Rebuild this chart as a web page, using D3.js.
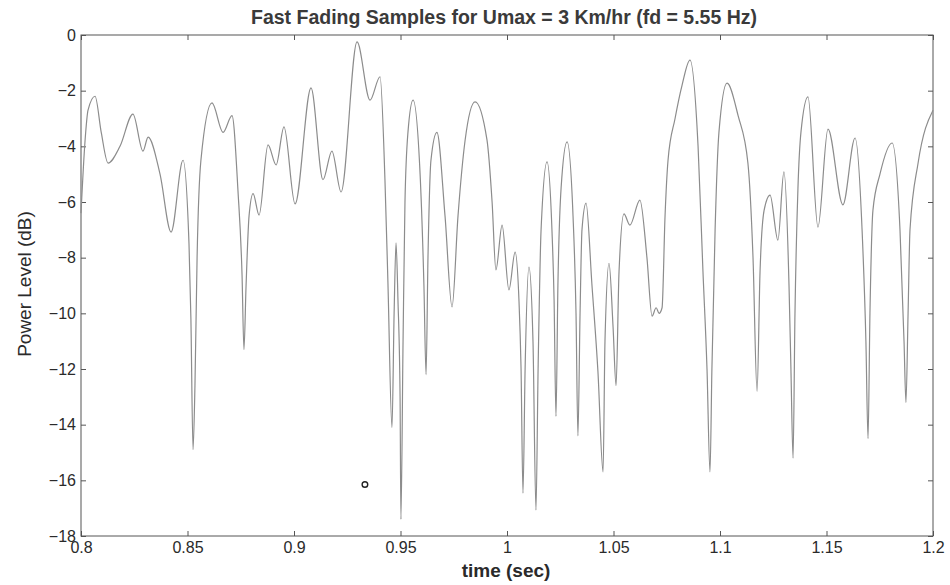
<!DOCTYPE html>
<html lang="en">
<head>
    <meta charset="UTF-8">
    <title>Fast Fading Samples</title>
    <script src="https://d3js.org/d3.v7.min.js"></script>
    <style>
        html, body { margin: 0; padding: 0; background: #fff; overflow: hidden; }
        svg { display: block; }
        .tick text { font-family: "Liberation Sans", Arial, sans-serif; font-size: 16px; fill: #2a2a2a; }
        .tick line { stroke: #555; }
        .domain { stroke: none; }
    </style>
</head>
<body>
    <svg width="950" height="585" id="svg1"></svg>
    <script>
        // time (sec) samples
        const time = [
            0.8000, 0.8019, 0.8033, 0.8066, 0.8095, 0.8127, 0.8183, 0.8244, 0.8291, 0.8315,
            0.8371, 0.8423, 0.8479, 0.8507, 0.8516, 0.8526, 0.8535, 0.8545, 0.8563, 0.8615,
            0.8667, 0.8709, 0.8737, 0.8756, 0.8765, 0.8775, 0.8789, 0.8808, 0.8836, 0.8878,
            0.8916, 0.8953, 0.9005, 0.9080, 0.9136, 0.9178, 0.9221, 0.9296, 0.9357, 0.9404,
            0.9427, 0.9441, 0.9460, 0.9470, 0.9479, 0.9488, 0.9498, 0.9502, 0.9512, 0.9521,
            0.9535, 0.9559, 0.9592, 0.9610, 0.9620, 0.9629, 0.9643, 0.9671, 0.9709, 0.9742,
            0.9770, 0.9803, 0.9850, 0.9906, 0.9930, 0.9948, 0.9977, 1.0009, 1.0038, 1.0056,
            1.0066, 1.0075, 1.0085, 1.0103, 1.0122, 1.0136, 1.0146, 1.0160, 1.0188, 1.0211,
            1.0221, 1.0230, 1.0239, 1.0254, 1.0282, 1.0310, 1.0324, 1.0333, 1.0343, 1.0352,
            1.0371, 1.0399, 1.0427, 1.0451, 1.0460, 1.0479, 1.0498, 1.0512, 1.0526, 1.0549,
            1.0577, 1.0624, 1.0657, 1.0681, 1.0700, 1.0714, 1.0728, 1.0742, 1.0756, 1.0789,
            1.0822, 1.0859, 1.0897, 1.0920, 1.0939, 1.0953, 1.0962, 1.0977, 1.0995, 1.1033,
            1.1085, 1.1131, 1.1155, 1.1174, 1.1188, 1.1207, 1.1235, 1.1272, 1.1300, 1.1324,
            1.1333, 1.1343, 1.1352, 1.1366, 1.1380, 1.1413, 1.1460, 1.1507, 1.1577, 1.1634,
            1.1667, 1.1685, 1.1695, 1.1704, 1.1718, 1.1751, 1.1808, 1.1845, 1.1864, 1.1873,
            1.1883, 1.1892, 1.1930, 1.2000
        ];

        // received power (dB) at each sample
        const power = [
            -6.4, -3.8, -2.7, -2.2, -3.5, -4.6, -4.0, -2.84, -4.17, -3.67,
            -5.0, -7.08, -4.5, -7.5, -10.2, -14.9, -12.6, -8.0, -4.5, -2.44,
            -3.5, -2.9, -5.6, -8.6, -11.3, -9.0, -6.5, -5.7, -6.47, -3.95,
            -4.67, -3.3, -6.07, -1.9, -5.2, -4.17, -5.64, -0.25, -2.34, -1.5,
            -5.2, -8.9, -14.1, -10.0, -7.47, -9.5, -13.0, -17.4, -11.0, -6.0,
            -3.5, -2.34, -5.0, -9.0, -12.2, -8.0, -4.5, -3.5, -6.5, -9.77,
            -6.5, -3.8, -2.4, -3.77, -6.0, -8.44, -6.83, -9.16, -7.8, -9.5,
            -12.0, -16.46, -12.0, -8.34, -11.0, -17.07, -12.0, -7.0, -4.56, -7.0,
            -9.5, -13.7, -9.0, -5.5, -3.84, -6.5, -10.0, -14.4, -10.0, -7.0,
            -6.04, -9.0, -12.1, -15.7, -11.0, -8.2, -10.5, -12.6, -8.5, -6.43,
            -6.83, -5.93, -8.0, -10.1, -9.8, -10.0, -9.8, -6.5, -4.5, -3.0,
            -1.8, -0.9, -4.0, -8.5, -12.0, -15.7, -12.0, -7.0, -3.5, -1.73,
            -2.9, -4.6, -8.0, -12.8, -8.5, -6.3, -5.75, -7.37, -4.92, -9.0,
            -12.0, -15.2, -10.0, -5.5, -3.5, -2.22, -6.9, -3.38, -6.1, -3.7,
            -7.0, -11.0, -14.5, -10.0, -6.3, -5.0, -3.88, -7.0, -11.0, -13.2,
            -10.0, -7.0, -4.6, -2.7
        ];

        // the lone "o" marker
        const marker = [{ t: 0.9333, p: -16.15 }];

        const xTicks = [0.8, 0.85, 0.9, 0.95, 1, 1.05, 1.1, 1.15, 1.2];
        const yTicks = [0, -2, -4, -6, -8, -10, -12, -14, -16, -18];

        const svg = d3.select('#svg1');
        const margin = { top: 35, right: 17, bottom: 49, left: 81 };
        const innerWidth = 950 - margin.left - margin.right;
        const innerHeight = 585 - margin.top - margin.bottom;

        const g = svg.append('g')
            .attr('transform', `translate(${margin.left}, ${margin.top})`);

        const x = d3.scaleLinear().domain([0.8, 1.2]).range([0, innerWidth]);
        const y = d3.scaleLinear().domain([-18, 0]).range([innerHeight, 0]);

        const fmt = d => d3.format('~g')(d);

        // axes, ticks pointing inward like matlab
        g.append('g')
            .attr('transform', `translate(0, ${innerHeight})`)
            .call(d3.axisBottom(x).tickValues(xTicks).tickFormat(fmt).tickSize(-5).tickPadding(6));
        g.append('g')
            .call(d3.axisTop(x).tickValues(xTicks).tickSize(-5))
            .call(a => a.selectAll('text').remove());
        g.append('g')
            .call(d3.axisLeft(y).tickValues(yTicks).tickFormat(fmt).tickSize(-5).tickPadding(5));
        g.append('g')
            .attr('transform', `translate(${innerWidth}, 0)`)
            .call(d3.axisRight(y).tickValues(yTicks).tickSize(-5))
            .call(a => a.selectAll('text').remove());

        g.append('rect')
            .attr('width', innerWidth)
            .attr('height', innerHeight)
            .attr('fill', 'none')
            .attr('stroke', '#555')
            .attr('stroke-width', 1);

        const data = time.map((t, i) => ({ t: t, p: power[i] }));

        const line = d3.line()
            .x(d => x(d.t))
            .y(d => y(d.p))
            .curve(d3.curveMonotoneX);

        g.append('path')
            .datum(data)
            .attr('d', line)
            .attr('fill', 'none')
            .attr('stroke', '#8c8c8c')
            .attr('stroke-width', 1.2);

        g.selectAll('circle')
            .data(marker)
            .enter()
            .append('circle')
            .attr('cx', d => x(d.t))
            .attr('cy', d => y(d.p))
            .attr('r', 2.8)
            .attr('fill', 'none')
            .attr('stroke', '#222')
            .attr('stroke-width', 1.4);

        // labels
        svg.append('text')
            .attr('x', 504)
            .attr('y', 24)
            .attr('text-anchor', 'middle')
            .style('font-family', '"Liberation Sans", Arial, sans-serif')
            .style('font-size', '19.5px')
            .style('font-weight', 'bold')
            .style('fill', '#3a3a3a')
            .text('Fast Fading Samples for Umax = 3 Km/hr (fd = 5.55 Hz)');

        svg.append('text')
            .attr('x', 506)
            .attr('y', 577)
            .attr('text-anchor', 'middle')
            .style('font-family', '"Liberation Sans", Arial, sans-serif')
            .style('font-size', '19px')
            .style('font-weight', 'bold')
            .style('fill', '#2a2a2a')
            .text('time (sec)');

        svg.append('text')
            .attr('transform', 'translate(31, 284) rotate(-90)')
            .attr('text-anchor', 'middle')
            .style('font-family', '"Liberation Sans", Arial, sans-serif')
            .style('font-size', '19px')
            .style('fill', '#2a2a2a')
            .text('Power Level (dB)');
    </script>
</body>
</html>
